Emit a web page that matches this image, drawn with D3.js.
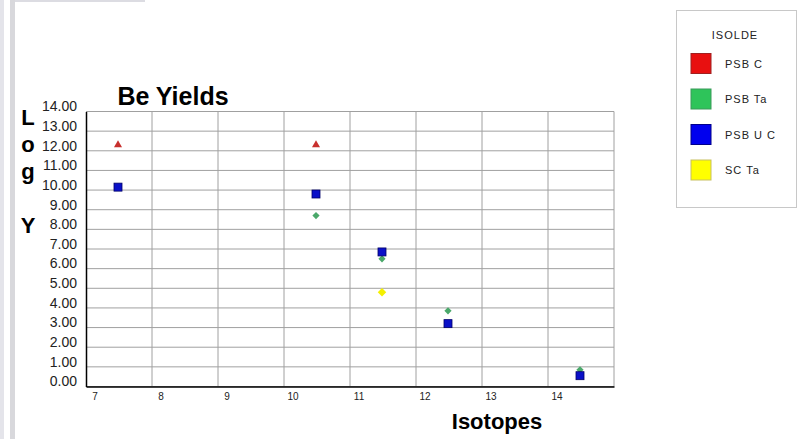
<!DOCTYPE html>
<html>
<head>
<meta charset="utf-8">
<script src="https://cdn.jsdelivr.net/npm/d3@7"></script>
<style>
  body { margin: 0; background: #fff; }
  svg { display: block; font-family: "Liberation Sans", Arial, sans-serif; }
</style>
</head>
<body>
<div id="chart"></div>
<script>
// Data
var isotopes = [7, 8, 9, 10, 11, 12, 13, 14];
var yTicks = [0, 1, 2, 3, 4, 5, 6, 7, 8, 9, 10, 11, 12, 13, 14];
var seriesNames = ["PSB C", "PSB Ta", "PSB U C", "SC Ta"];
var psbC = [{x: 7, y: 12.3}, {x: 10, y: 12.3}];
var psbTa = [{x: 10, y: 8.7}, {x: 11, y: 6.5}, {x: 12, y: 3.85}, {x: 14, y: 0.85}];
var psbUC = [{x: 7, y: 10.15}, {x: 10, y: 9.8}, {x: 11, y: 6.85}, {x: 12, y: 3.2}, {x: 14, y: 0.55}];
var scTa = [{x: 11, y: 4.8}];

var svgWidth = 798;
var svgHeight = 439;

var plot = {left: 86, right: 614, top: 111.5, bottom: 386.5};

var svg = d3.select("#chart")
  .append("svg")
  .attr("width", svgWidth)
  .attr("height", svgHeight);

// window chrome strip on the left
svg.append("rect").attr("x", 0).attr("y", 0).attr("width", 4).attr("height", svgHeight).attr("fill", "#e4e4ea");
svg.append("rect").attr("x", 10).attr("y", 0).attr("width", 5).attr("height", svgHeight).attr("fill", "#d8d8dc");
svg.append("rect").attr("x", 15).attr("y", 0).attr("width", 130).attr("height", 2).attr("fill", "#dcdce2");

// scales - isotopes are bins, points sit near the middle of each bin
var xScale = d3.scaleBand()
  .domain(isotopes)
  .range([plot.left, plot.right])
  .paddingInner(0)
  .paddingOuter(0);

var yScale = d3.scaleLinear()
  .domain([0, 14])
  .range([plot.bottom, plot.top]);

var cx = d => xScale(d.x) + xScale.bandwidth() / 2 - 1;

// gridlines
var grid = svg.append("g");
grid.selectAll(".hgrid")
  .data(yTicks)
  .enter()
  .append("line")
  .attr("x1", plot.left)
  .attr("x2", plot.right)
  .attr("y1", d => yScale(d))
  .attr("y2", d => yScale(d))
  .attr("stroke", "#a0a0a0")
  .attr("stroke-width", 1);

grid.selectAll(".vgrid")
  .data(isotopes.slice(1).concat([15]))
  .enter()
  .append("line")
  .attr("x1", d => d === 15 ? plot.right : xScale(d))
  .attr("x2", d => d === 15 ? plot.right : xScale(d))
  .attr("y1", plot.top)
  .attr("y2", plot.bottom)
  .attr("stroke", "#a0a0a0")
  .attr("stroke-width", 1);

// y axis
var leftAxis = d3.axisLeft(yScale)
  .tickValues(yTicks)
  .tickSize(0)
  .tickPadding(9)
  .tickFormat(d3.format(".2f"));

var yAxis = svg.append("g")
  .attr("transform", `translate(${plot.left}, 0)`)
  .call(leftAxis);
yAxis.select(".domain").attr("stroke", "#000").attr("stroke-width", 1.5);
yAxis.selectAll("text")
  .attr("font-family", "'Liberation Sans', Arial, sans-serif")
  .style("font-size", "14px")
  .attr("fill", "#222")
  .attr("dy", "-0.05em");

// x axis
var bottomAxis = d3.axisBottom(xScale)
  .tickSize(0)
  .tickPadding(6);

var xAxis = svg.append("g")
  .attr("transform", `translate(0, ${plot.bottom})`)
  .call(bottomAxis);
xAxis.select(".domain").attr("stroke", "#000").attr("stroke-width", 1.5);
xAxis.selectAll(".tick")
  .attr("transform", d => `translate(${xScale(d) + 9}, 0)`);
xAxis.selectAll("text")
  .attr("font-family", "'Liberation Sans', Arial, sans-serif")
  .style("font-size", "10px")
  .attr("fill", "#222");

// markers
var marks = svg.append("g");

marks.selectAll(".psbc")
  .data(psbC)
  .enter()
  .append("path")
  .attr("d", d3.symbol().type(d3.symbolTriangle).size(28))
  .attr("transform", d => `translate(${cx(d)}, ${yScale(d.y)})`)
  .attr("fill", "#c8302e");

// diamonds = squares turned 45deg
marks.selectAll(".psbta")
  .data(psbTa)
  .enter()
  .append("path")
  .attr("d", d3.symbol().type(d3.symbolSquare).size(26))
  .attr("transform", d => `translate(${cx(d)}, ${yScale(d.y)}) rotate(45)`)
  .attr("fill", "#4aa86a");

marks.selectAll(".sc")
  .data(scTa)
  .enter()
  .append("path")
  .attr("d", d3.symbol().type(d3.symbolSquare).size(36))
  .attr("transform", d => `translate(${cx(d)}, ${yScale(d.y)}) rotate(45)`)
  .attr("fill", "#f4f000");

marks.selectAll(".psbuc")
  .data(psbUC)
  .enter()
  .append("rect")
  .attr("x", d => cx(d) - 4)
  .attr("y", d => yScale(d.y) - 4)
  .attr("width", 8)
  .attr("height", 8)
  .attr("fill", "#0a10c8")
  .attr("stroke", "#00006a")
  .attr("stroke-width", 0.8);

// titles
svg.append("text")
  .attr("x", 173)
  .attr("y", 105)
  .attr("text-anchor", "middle")
  .attr("font-weight", "bold")
  .style("font-size", "25px")
  .attr("fill", "#000")
  .text("Be Yields");

svg.append("text")
  .attr("x", 497)
  .attr("y", 429)
  .attr("text-anchor", "middle")
  .attr("font-weight", "bold")
  .style("font-size", "22px")
  .attr("fill", "#000")
  .text("Isotopes");

// stacked y title "Log Y"
var yTitle = ["L", "o", "g", "", "Y"];
svg.append("g").selectAll("text")
  .data(yTitle)
  .enter()
  .append("text")
  .attr("x", 28)
  .attr("y", (d, i) => 125 + i * 27)
  .attr("text-anchor", "middle")
  .attr("font-weight", "bold")
  .style("font-size", "22px")
  .attr("fill", "#000")
  .text(d => d);

// legend
var legendColors = ["#e81010", "#2ec45a", "#0000ee", "#ffff00"];
var legendStroke = ["#a02020", "#3a9a5a", "#00008a", "#c8c060"];

var legend = svg.append("g");
legend.append("rect")
  .attr("x", 676.5)
  .attr("y", 10.5)
  .attr("width", 120)
  .attr("height", 197)
  .attr("fill", "#fff")
  .attr("stroke", "#c8c8c8");

legend.append("text")
  .attr("x", 735)
  .attr("y", 39)
  .attr("text-anchor", "middle")
  .style("font-size", "11px")
  .style("letter-spacing", "1px")
  .attr("fill", "#222")
  .text("ISOLDE");

var items = legend.selectAll(".item")
  .data(seriesNames)
  .enter()
  .append("g")
  .attr("transform", (d, i) => `translate(691, ${53.5 + i * 35.5})`);

items.append("rect")
  .attr("width", 20)
  .attr("height", 20)
  .attr("fill", (d, i) => legendColors[i])
  .attr("stroke", (d, i) => legendStroke[i]);

items.append("text")
  .attr("x", 34)
  .attr("y", 14)
  .style("font-size", "11px")
  .style("letter-spacing", "1px")
  .attr("fill", "#222")
  .text(d => d);
</script>
</body>
</html>
